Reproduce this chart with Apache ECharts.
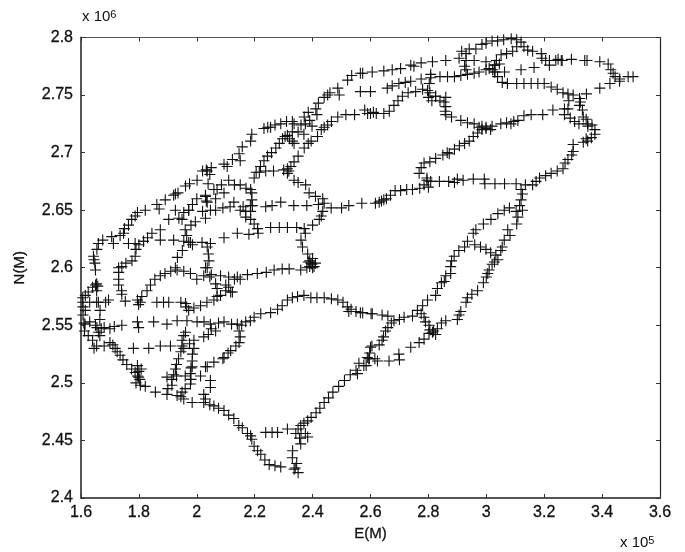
<!DOCTYPE html>
<html><head><meta charset="utf-8">
<script src="https://cdn.jsdelivr.net/npm/echarts@6/dist/echarts.min.js"></script>
<style>html,body{margin:0;padding:0;background:#fff}#c{width:685px;height:552px}</style>
</head><body><div id="c"></div>
<script>
const coastNorth=[[1.606,2.574],[1.615,2.576],[1.625,2.579],[1.64,2.583],[1.65,2.585],[1.654,2.586],[1.658,2.584],[1.65,2.598],[1.645,2.607],[1.643,2.61],[1.648,2.604],[1.655,2.616],[1.675,2.624],[1.706,2.627],[1.735,2.628],[1.747,2.63],[1.75,2.634],[1.764,2.637],[1.775,2.642],[1.787,2.645],[1.795,2.648],[1.822,2.65],[1.862,2.655],[1.87,2.651],[1.891,2.659],[1.926,2.664],[1.935,2.665],[1.961,2.671],[1.975,2.673],[2.001,2.676],[2.02,2.684],[2.036,2.684],[2.05,2.687],[2.045,2.681],[2.094,2.69],[2.105,2.688],[2.123,2.694],[2.146,2.699],[2.15,2.693],[2.157,2.705],[2.186,2.71],[2.19,2.716],[2.232,2.721],[2.245,2.722],[2.255,2.722],[2.27,2.724],[2.29,2.725],[2.31,2.727],[2.33,2.727],[2.336,2.725],[2.371,2.731],[2.375,2.725],[2.385,2.735],[2.411,2.738],[2.415,2.733],[2.42,2.743],[2.44,2.748],[2.452,2.75],[2.46,2.752],[2.487,2.756],[2.492,2.75],[2.521,2.763],[2.535,2.767],[2.573,2.769]];
const coastWest=[[1.607,2.566],[1.607,2.559],[1.61,2.552],[1.612,2.545],[1.625,2.541],[1.64,2.537],[1.645,2.53],[1.655,2.548],[1.63,2.553],[1.615,2.563]];
const coastInner=[[1.73,2.6],[1.755,2.604],[1.776,2.606],[1.79,2.616],[1.8,2.62],[1.816,2.623],[1.83,2.626],[1.845,2.63],[1.874,2.633],[1.903,2.642],[1.938,2.643],[1.955,2.648],[1.972,2.65],[1.985,2.655],[2.0,2.66],[2.03,2.663],[2.033,2.658],[2.07,2.668],[2.11,2.676],[2.13,2.672],[2.15,2.672],[2.17,2.669],[2.186,2.668],[2.19,2.659],[2.192,2.654],[2.186,2.649],[2.169,2.644],[2.186,2.642],[2.198,2.638],[2.21,2.634],[2.212,2.63]];
const ridgeA=[[2.19,2.665],[2.198,2.678],[2.205,2.683],[2.22,2.688],[2.232,2.693],[2.244,2.697],[2.258,2.7],[2.273,2.704],[2.285,2.708],[2.296,2.712],[2.305,2.714],[2.313,2.715],[2.32,2.712],[2.33,2.71],[2.336,2.708],[2.33,2.718],[2.35,2.718],[2.37,2.716],[2.398,2.723],[2.39,2.728],[2.36,2.724]];
const ridgeB=[[2.216,2.683],[2.238,2.684],[2.265,2.684],[2.3,2.685],[2.313,2.686],[2.318,2.684],[2.325,2.688],[2.336,2.692],[2.35,2.697],[2.371,2.704],[2.385,2.708],[2.395,2.71],[2.417,2.714],[2.43,2.72],[2.44,2.722],[2.452,2.724],[2.465,2.727],[2.487,2.731],[2.515,2.733],[2.545,2.733],[2.58,2.737],[2.59,2.734],[2.6,2.734],[2.61,2.735],[2.62,2.734],[2.646,2.734],[2.665,2.736],[2.681,2.741],[2.695,2.745],[2.71,2.749],[2.73,2.752],[2.756,2.753],[2.78,2.755],[2.797,2.754],[2.8,2.748],[2.825,2.749],[2.84,2.745],[2.854,2.744],[2.86,2.74],[2.858,2.736],[2.86,2.733],[2.88,2.731],[2.912,2.728],[2.935,2.726],[2.958,2.725],[2.975,2.722],[2.985,2.723],[2.999,2.722],[3.015,2.72]];
const centralBend=[[2.313,2.682],[2.336,2.676],[2.35,2.674],[2.376,2.672],[2.388,2.665],[2.41,2.662],[2.435,2.66],[2.44,2.656],[2.435,2.649],[2.43,2.645],[2.423,2.642],[2.4,2.637],[2.371,2.634],[2.375,2.63],[2.36,2.624],[2.365,2.618],[2.383,2.612],[2.39,2.606],[2.394,2.604],[2.398,2.603],[2.39,2.601],[2.4,2.608],[2.405,2.601],[2.385,2.605],[2.4,2.6],[2.41,2.604]];
const crossIsland=[[2.065,2.65],[2.09,2.652],[2.115,2.653],[2.16,2.653],[2.185,2.654],[2.238,2.653],[2.26,2.654],[2.29,2.657],[2.335,2.654],[2.38,2.654],[2.42,2.655],[2.464,2.652],[2.5,2.652],[2.525,2.654],[2.57,2.656],[2.617,2.656],[2.63,2.657],[2.638,2.658],[2.646,2.659],[2.655,2.66],[2.669,2.663],[2.685,2.667],[2.704,2.667],[2.725,2.668],[2.745,2.668],[2.77,2.669],[2.785,2.672],[2.795,2.676],[2.808,2.675],[2.8,2.67],[2.838,2.675],[2.87,2.675],[2.89,2.674],[2.9,2.677],[2.92,2.676],[2.955,2.677],[2.993,2.677],[2.995,2.673],[3.03,2.673],[3.063,2.673],[3.103,2.673],[3.135,2.672],[3.16,2.672],[3.172,2.675],[3.184,2.678],[3.205,2.68],[3.224,2.682],[3.245,2.684],[3.265,2.686],[3.272,2.691],[3.282,2.694],[3.295,2.698],[3.3,2.701],[3.3,2.707],[3.335,2.709],[3.345,2.712],[3.35,2.71],[3.363,2.713],[3.375,2.716],[3.375,2.72],[3.365,2.724],[3.35,2.725],[3.345,2.729],[3.335,2.731],[3.332,2.737],[3.322,2.741],[3.325,2.744],[3.322,2.747]];
const northEastDiag=[[2.795,2.678],[2.768,2.682],[2.775,2.687],[2.785,2.691],[2.805,2.692],[2.825,2.695],[2.85,2.698],[2.865,2.7],[2.872,2.699],[2.89,2.703],[2.907,2.706],[2.925,2.708],[2.941,2.71],[2.955,2.714],[2.97,2.717],[2.985,2.72],[2.999,2.721],[3.02,2.723],[3.05,2.725],[3.07,2.726],[3.085,2.725],[3.095,2.727],[3.109,2.728],[3.13,2.732],[3.155,2.733],[3.195,2.733],[3.23,2.737],[3.27,2.738],[3.27,2.733],[3.29,2.73],[3.305,2.727],[3.282,2.738],[3.285,2.745],[3.32,2.725],[3.351,2.723]];
const upperRoad=[[2.565,2.753],[2.6,2.753],[2.658,2.756],[2.675,2.758],[2.698,2.76],[2.72,2.761],[2.739,2.762],[2.775,2.764],[2.808,2.765],[2.84,2.766],[2.866,2.766],[2.89,2.766],[2.912,2.767],[2.935,2.768],[2.958,2.769],[2.975,2.77],[2.999,2.772],[3.01,2.773],[3.028,2.77],[3.063,2.77],[3.12,2.772],[3.165,2.774],[3.218,2.776],[3.24,2.78],[3.259,2.78]];
const topRoad=[[2.565,2.769],[2.606,2.77],[2.646,2.771],[2.675,2.772],[2.704,2.773],[2.739,2.776],[2.75,2.775],[2.775,2.778],[2.814,2.779],[2.86,2.78],[2.906,2.782],[2.93,2.78],[2.958,2.78],[2.999,2.779],[3.03,2.776],[3.045,2.777]];
const topLoop=[[2.93,2.786],[2.941,2.79],[2.964,2.79],[2.985,2.794],[2.999,2.795],[3.02,2.797],[3.039,2.797],[3.06,2.798],[3.086,2.799],[3.105,2.798],[3.12,2.796],[3.13,2.792],[3.143,2.789],[3.16,2.788],[3.19,2.786],[3.192,2.782],[3.205,2.78],[3.218,2.78],[3.248,2.781],[3.262,2.78],[3.294,2.781],[3.34,2.78],[3.348,2.78],[3.392,2.779],[3.421,2.777],[3.43,2.772],[3.438,2.769],[3.445,2.766],[3.461,2.764],[3.49,2.766],[3.507,2.766]];
const eastReturn=[[3.46,2.762],[3.427,2.76],[3.392,2.756],[3.346,2.751],[3.322,2.747],[3.3,2.75],[3.282,2.751],[3.265,2.752],[3.245,2.755],[3.224,2.757],[3.2,2.76],[3.178,2.76],[3.155,2.76],[3.13,2.76],[3.105,2.76],[3.073,2.76],[3.055,2.761],[3.039,2.766],[3.03,2.77],[3.022,2.772],[3.028,2.776],[3.035,2.78],[3.051,2.785],[3.07,2.786],[3.091,2.788],[3.105,2.792],[2.915,2.788],[2.925,2.775],[2.93,2.772]];
const eastLink=[[2.808,2.768],[2.803,2.76],[2.805,2.752],[2.825,2.749],[2.812,2.745],[2.86,2.748]];
const southEastA=[[3.12,2.668],[3.125,2.664],[3.12,2.659],[3.115,2.654],[3.125,2.65],[3.109,2.644],[3.105,2.638],[3.074,2.633],[3.082,2.628],[3.062,2.624],[3.055,2.618],[3.05,2.615],[3.033,2.611],[3.04,2.607],[3.02,2.603],[3.028,2.605],[3.01,2.598],[3.005,2.595],[3.0,2.592],[2.99,2.587],[2.97,2.58],[2.95,2.577],[2.935,2.574],[2.93,2.57],[2.912,2.562],[2.906,2.559],[2.9,2.555],[2.86,2.554],[2.845,2.552],[2.831,2.547],[2.818,2.545],[2.802,2.543],[2.785,2.538],[2.768,2.535],[2.739,2.531],[2.698,2.525],[2.7,2.52],[2.664,2.519],[2.624,2.519],[2.615,2.521],[2.594,2.521],[2.585,2.515],[2.577,2.515]];
const southEastB=[[3.103,2.649],[3.08,2.652],[3.062,2.65],[3.04,2.647],[3.016,2.642],[2.99,2.638],[2.964,2.633],[2.955,2.63],[2.935,2.623],[2.925,2.618],[2.96,2.62],[2.98,2.618],[2.999,2.616],[3.015,2.613],[2.905,2.615],[2.889,2.61],[2.88,2.606],[2.877,2.601],[2.877,2.595],[2.86,2.593],[2.855,2.588],[2.845,2.587],[2.831,2.582],[2.825,2.576],[2.797,2.572],[2.78,2.567],[2.762,2.563],[2.775,2.56],[2.785,2.557],[2.79,2.553],[2.802,2.55],[2.805,2.546],[2.814,2.544],[2.825,2.542]];
const southEastC=[[2.745,2.558],[2.716,2.557],[2.7,2.555],[2.681,2.554],[2.66,2.558],[2.64,2.559],[2.606,2.56],[2.565,2.561],[2.672,2.552],[2.66,2.548],[2.652,2.545],[2.645,2.54],[2.64,2.537],[2.63,2.533],[2.6,2.531],[2.605,2.532],[2.597,2.526],[2.589,2.522]];
const southRoad=[[2.602,2.56],[2.573,2.561],[2.55,2.562],[2.533,2.564],[2.525,2.562],[2.52,2.566],[2.505,2.57],[2.487,2.572],[2.465,2.573],[2.44,2.574],[2.415,2.574],[2.394,2.574],[2.37,2.576],[2.348,2.575],[2.33,2.574],[2.313,2.572],[2.295,2.567],[2.279,2.564],[2.255,2.561],[2.221,2.56],[2.198,2.557],[2.185,2.554],[2.169,2.553],[2.155,2.55],[2.146,2.545],[2.15,2.54],[2.146,2.535],[2.135,2.532],[2.117,2.528],[2.108,2.526],[2.094,2.522],[2.09,2.521],[2.059,2.518],[2.03,2.514]];
const midWest=[[1.614,2.551],[1.65,2.55],[1.68,2.548],[1.7,2.547],[1.715,2.549],[1.741,2.55],[1.795,2.553],[1.799,2.548],[1.851,2.553],[1.897,2.551],[1.932,2.554],[1.966,2.554],[2.001,2.553],[2.025,2.553],[2.047,2.551],[2.05,2.547],[2.075,2.552],[2.094,2.553],[2.12,2.551],[2.14,2.551]];
const upperWest=[[1.606,2.57],[1.63,2.57],[1.654,2.57],[1.685,2.57],[1.695,2.572],[1.753,2.571],[1.795,2.572],[1.799,2.568],[1.805,2.57],[1.862,2.57],[1.885,2.57],[1.903,2.57],[1.945,2.57],[1.961,2.569],[1.965,2.566],[1.972,2.563],[1.99,2.565],[2.013,2.567],[2.035,2.57],[2.059,2.572],[2.07,2.575],[2.082,2.576],[2.1,2.58],[2.117,2.579]];
const ridgeWest=[[1.81,2.575],[1.828,2.58],[1.84,2.585],[1.855,2.59],[1.874,2.593],[1.89,2.595],[1.91,2.597],[1.932,2.598],[1.955,2.597],[1.978,2.595],[2.0,2.59],[2.024,2.593],[2.05,2.594],[2.082,2.593],[2.11,2.592],[2.13,2.59],[2.14,2.592],[2.15,2.59],[2.175,2.594],[2.209,2.595],[2.24,2.596],[2.267,2.598],[2.295,2.599],[2.319,2.599],[2.359,2.598],[2.38,2.6]];
const hillRoads=[[2.036,2.6],[2.045,2.592],[2.065,2.586],[2.07,2.582],[2.1,2.585],[2.11,2.583],[2.123,2.579],[1.73,2.596],[1.73,2.59],[1.73,2.585],[1.74,2.58],[1.741,2.577],[1.654,2.58],[1.66,2.57],[1.666,2.563],[1.665,2.555],[1.66,2.544],[1.665,2.541],[1.67,2.547],[1.654,2.532],[1.68,2.532],[1.7,2.535],[1.71,2.533],[1.718,2.53],[1.725,2.527],[1.735,2.524],[1.745,2.52],[1.758,2.516],[1.775,2.512],[1.787,2.509],[1.795,2.506],[1.799,2.505],[1.8,2.51],[1.79,2.5],[1.805,2.498],[1.803,2.503],[1.808,2.512],[1.795,2.515],[1.822,2.497],[1.857,2.492],[1.897,2.49],[1.932,2.489],[1.945,2.488],[1.955,2.486],[1.984,2.483],[2.024,2.483],[2.045,2.481],[2.059,2.48],[2.075,2.478],[2.094,2.476],[2.11,2.472],[2.128,2.469],[2.145,2.463],[2.157,2.461],[2.175,2.456],[2.186,2.454],[2.19,2.451],[2.198,2.445],[2.21,2.441],[2.221,2.438],[2.235,2.433],[2.25,2.429],[2.27,2.428],[2.29,2.427],[2.34,2.426],[2.336,2.425],[2.35,2.422]];
const southTip=[[2.331,2.441],[2.33,2.435],[2.345,2.43],[2.359,2.447],[2.383,2.453],[2.36,2.456],[2.375,2.456],[2.342,2.456],[2.35,2.46],[2.355,2.452],[2.359,2.463],[2.37,2.465],[2.383,2.467],[2.395,2.47],[2.412,2.474],[2.425,2.478],[2.44,2.483],[2.455,2.487],[2.47,2.492],[2.49,2.497],[2.51,2.502],[2.53,2.507],[2.55,2.511],[2.555,2.508],[2.56,2.517],[2.596,2.521],[2.238,2.457],[2.26,2.457],[2.279,2.457],[2.313,2.46]];
const lowerMid=[[1.781,2.53],[1.834,2.53],[1.874,2.532],[1.909,2.532],[1.949,2.532],[1.975,2.534],[1.99,2.537],[2.024,2.54],[2.04,2.542],[2.065,2.545],[1.961,2.544],[1.955,2.541],[1.949,2.537],[1.955,2.53],[1.945,2.527],[1.937,2.521],[1.93,2.516],[1.926,2.512],[1.92,2.507],[1.914,2.503],[1.914,2.498],[1.9,2.495],[1.99,2.53],[1.985,2.525],[1.984,2.519],[1.98,2.513],[1.978,2.508],[1.98,2.503],[1.978,2.499],[1.96,2.495],[1.949,2.492],[1.897,2.505],[1.93,2.506],[1.96,2.506],[2.013,2.506],[2.047,2.502],[2.047,2.496],[2.024,2.49],[2.03,2.486],[1.984,2.514],[2.036,2.514]];
const northWest=[[1.66,2.621],[1.712,2.621],[1.764,2.621],[1.816,2.623],[1.874,2.624],[1.92,2.624],[1.955,2.623],[1.978,2.622],[1.985,2.62],[2.018,2.622],[2.047,2.621],[2.094,2.626],[2.14,2.63],[2.18,2.629],[2.255,2.635],[2.285,2.635],[2.313,2.635],[2.345,2.635],[1.96,2.633],[1.965,2.628],[1.972,2.622],[1.95,2.615],[1.933,2.609],[1.926,2.6],[2.036,2.618],[2.042,2.606],[2.03,2.6],[2.04,2.612],[1.787,2.621],[1.787,2.61],[1.741,2.601],[2.033,2.685],[2.039,2.673],[2.03,2.662],[1.949,2.642],[1.995,2.64],[2.03,2.643],[2.047,2.65],[2.036,2.657],[2.059,2.668],[2.094,2.665],[2.128,2.657],[2.169,2.649],[1.926,2.65],[1.972,2.65],[2.02,2.649],[1.92,2.663],[2.15,2.65],[2.085,2.672],[2.065,2.66],[1.98,2.637]];

const allPoints=[coastNorth,coastWest,coastInner,ridgeA,ridgeB,centralBend,crossIsland,northEastDiag,upperRoad,topRoad,topLoop,eastReturn,eastLink,southEastA,southEastB,southEastC,southRoad,midWest,upperWest,ridgeWest,hillRoads,southTip,lowerMid,northWest].flat();

const axisColor='#555';
const ink='#111';
const font='"Liberation Sans",Arial,sans-serif';
const textStroke={textBorderColor:'#111',textBorderWidth:0.3};
const chart=echarts.init(document.getElementById('c'),null,{renderer:'canvas'});
const baseX={type:'value',min:1.6,max:3.6,interval:0.2,splitLine:{show:false}};
const baseY={type:'value',min:2.4,max:2.8,interval:0.05,splitLine:{show:false}};
const tick={show:true,inside:true,length:4,lineStyle:{color:'#333',width:1}};
chart.setOption({
  animation:false,backgroundColor:'#fff',
  grid:{left:81,right:25,top:37.5,bottom:54,containLabel:false},
  xAxis:[
    {...baseX,position:'bottom',axisLine:{show:true,onZero:false,lineStyle:{color:axisColor,width:2}},axisTick:tick,
     axisLabel:{color:'#111',fontFamily:font,fontSize:16,margin:7,...textStroke},
     name:'E(M)',nameLocation:'middle',nameGap:27,nameTextStyle:{color:'#111',fontFamily:font,fontSize:15,...textStroke}},
    {...baseX,position:'top',axisLine:{show:true,onZero:false,lineStyle:{color:'#555',width:1}},axisTick:tick,axisLabel:{show:false}}
  ],
  yAxis:[
    {...baseY,position:'left',axisLine:{show:true,onZero:false,lineStyle:{color:axisColor,width:2}},axisTick:tick,
     axisLabel:{color:'#111',fontFamily:font,fontSize:16,margin:8,...textStroke},
     name:'N(M)',nameLocation:'middle',nameGap:54,nameRotate:90,nameTextStyle:{color:'#111',fontFamily:font,fontSize:15,...textStroke}},
    {...baseY,position:'right',axisLine:{show:true,onZero:false,lineStyle:{color:'#222',width:1.2}},axisTick:tick,axisLabel:{show:false}}
  ],
  series:[{type:'scatter',data:allPoints,symbol:'path://M5 0V10M0 5H10',symbolSize:11,silent:true,
    itemStyle:{color:'none',borderColor:ink,borderWidth:1.1,opacity:1}}],
  graphic:[
    {type:'text',left:82,top:9,style:{rich:{a:{fontSize:15,fontFamily:font,fill:'#111'},b:{fontSize:11,fontFamily:font,fill:'#111',verticalAlign:'top',lineHeight:12}},text:'{a|x 10}{b|6}'}},
    {type:'text',left:620,top:535,style:{rich:{a:{fontSize:15,fontFamily:font,fill:'#111'},b:{fontSize:11,fontFamily:font,fill:'#111',verticalAlign:'top',lineHeight:12}},text:'{a|x 10}{b|5}'}}
  ]
});
</script></body></html>
